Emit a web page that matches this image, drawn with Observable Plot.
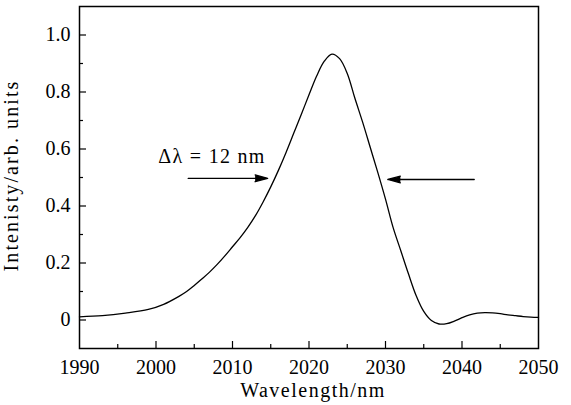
<!DOCTYPE html>
<html>
<head>
<meta charset="utf-8">
<script src="https://cdn.jsdelivr.net/npm/d3@7"></script>
<script src="https://cdn.jsdelivr.net/npm/@observablehq/plot@0.6"></script>
<style>
  html, body { margin: 0; padding: 0; background: #fff; }
  #chart svg { display: block; }
  #chart svg text { font-family: "Liberation Serif", "Times New Roman", serif; }
</style>
</head>
<body>
<div id="chart"></div>
<script>
// ---- data ----
const wavelength = [1990, 1993, 1996, 1999, 2001, 2003, 2004, 2005, 2006, 2007, 2008, 2009, 2010, 2011, 2012, 2013, 2014, 2015, 2016, 2017, 2018, 2019, 2020, 2021, 2022, 2023, 2024, 2025, 2026, 2027, 2028, 2029, 2030, 2031, 2032, 2033, 2034, 2035, 2036, 2037, 2038, 2039, 2040, 2041, 2042, 2043, 2044, 2045, 2046, 2047, 2048, 2049, 2050];
const intensity  = [0.011, 0.015, 0.024, 0.037, 0.055, 0.083, 0.100, 0.121, 0.144, 0.168, 0.195, 0.225, 0.257, 0.289, 0.325, 0.366, 0.414, 0.467, 0.525, 0.588, 0.655, 0.722, 0.790, 0.856, 0.908, 0.933, 0.917, 0.865, 0.778, 0.695, 0.606, 0.517, 0.424, 0.324, 0.243, 0.162, 0.086, 0.030, -0.002, -0.014, -0.013, -0.004, 0.008, 0.018, 0.024, 0.026, 0.025, 0.022, 0.018, 0.015, 0.012, 0.010, 0.009];

const xTicks = [1990, 2000, 2010, 2020, 2030, 2040, 2050];
const xMinor = [1995, 2005, 2015, 2025, 2035, 2045];
const yTicks = [0, 0.2, 0.4, 0.6, 0.8, 1.0];
const yMinor = [0.1, 0.3, 0.5, 0.7, 0.9];

const xLabel = "Wavelength/nm";
const yLabel = "Intenisty/arb. units";
const noteText = ["Δλ = 12 nm"];
const noteX = [2000.3];
const noteY = [0.575];

const arrowFrom = [2004.2, 2041.6];
const arrowTo   = [2014.6, 2030.3];
const arrowY    = [0.497, 0.493];

// ---- tables built from the arrays ----
const spectrum = wavelength.map((w, i) => ({w, v: intensity[i]}));
const arrows = arrowFrom.map((x1, i) => ({x1, x2: arrowTo[i], y: arrowY[i]}));
const notes = noteText.map((t, i) => ({t, x: noteX[i], y: noteY[i]}));

const serif = "'Liberation Serif', 'Times New Roman', serif";
const W = 571, H = 405, ML = 79, MR = 33, MT = 6, MB = 57;
const frameW = W - ML - MR, frameH = H - MT - MB;

const chart = Plot.plot({
  width: W,
  height: H,
  marginLeft: ML,
  marginRight: MR,
  marginTop: MT,
  marginBottom: MB,
  style: {fontFamily: serif, fontSize: "20px", color: "black", background: "white"},
  x: {domain: [1990, 2050], label: null},
  y: {domain: [-0.1, 1.1], label: null},
  marks: [
    // inward major & minor ticks
    Plot.tickX(xTicks.slice(1, -1), {x: d => d, insetTop: frameH - 7, stroke: "black", strokeWidth: 1.2}),
    Plot.tickX(xMinor, {x: d => d, insetTop: frameH - 4, stroke: "black", strokeWidth: 1.2}),
    Plot.tickY(yTicks, {y: d => d, insetRight: frameW - 7, stroke: "black", strokeWidth: 1.2}),
    Plot.tickY(yMinor, {y: d => d, insetRight: frameW - 4, stroke: "black", strokeWidth: 1.2}),
    // tick labels
    Plot.axisX({ticks: xTicks, tickSize: 0, tickPadding: 11, tickFormat: d => String(d), label: null, fontFamily: serif, fontSize: 20}),
    Plot.axisY({ticks: yTicks, tickSize: 0, tickPadding: 9, tickFormat: d => d === 0 ? "0" : d.toFixed(1), label: null, fontFamily: serif, fontSize: 20}),
    Plot.frame({stroke: "black", strokeWidth: 1.5}),
    // curve
    Plot.line(spectrum, {x: "w", y: "v", curve: "catmull-rom", stroke: "black", strokeWidth: 1.3}),
    // arrows with filled heads
    Plot.arrow(arrows, {x1: "x1", x2: "x2", y1: "y", y2: "y", stroke: "black", fill: "black", strokeWidth: 1.3, headLength: 15, headAngle: 30}),
    // annotation
    Plot.text(notes, {x: "x", y: "y", text: "t", textAnchor: "start", fontFamily: serif, fontSize: 20}),
    // axis titles
    Plot.text([xLabel], {text: d => d, frameAnchor: "bottom", textAnchor: "middle", dx: 4, dy: 48, lineAnchor: "bottom", fontFamily: serif, fontSize: 20}),
    Plot.text([yLabel], {text: d => d, frameAnchor: "left", textAnchor: "middle", dx: -62, dy: -2, rotate: -90, lineAnchor: "bottom", fontFamily: serif, fontSize: 20})
  ]
});

// letter spacing to approximate the wider Computer Modern lettering
const spacing = new Map([[xLabel, 1.5], [yLabel, 2.1], [noteText[0], 1.3]]);
d3.select(chart).selectAll("text").each(function () {
  const s = spacing.get(this.textContent);
  if (s != null) this.setAttribute("letter-spacing", s);
});
document.getElementById("chart").appendChild(chart);
</script>
</body>
</html>
